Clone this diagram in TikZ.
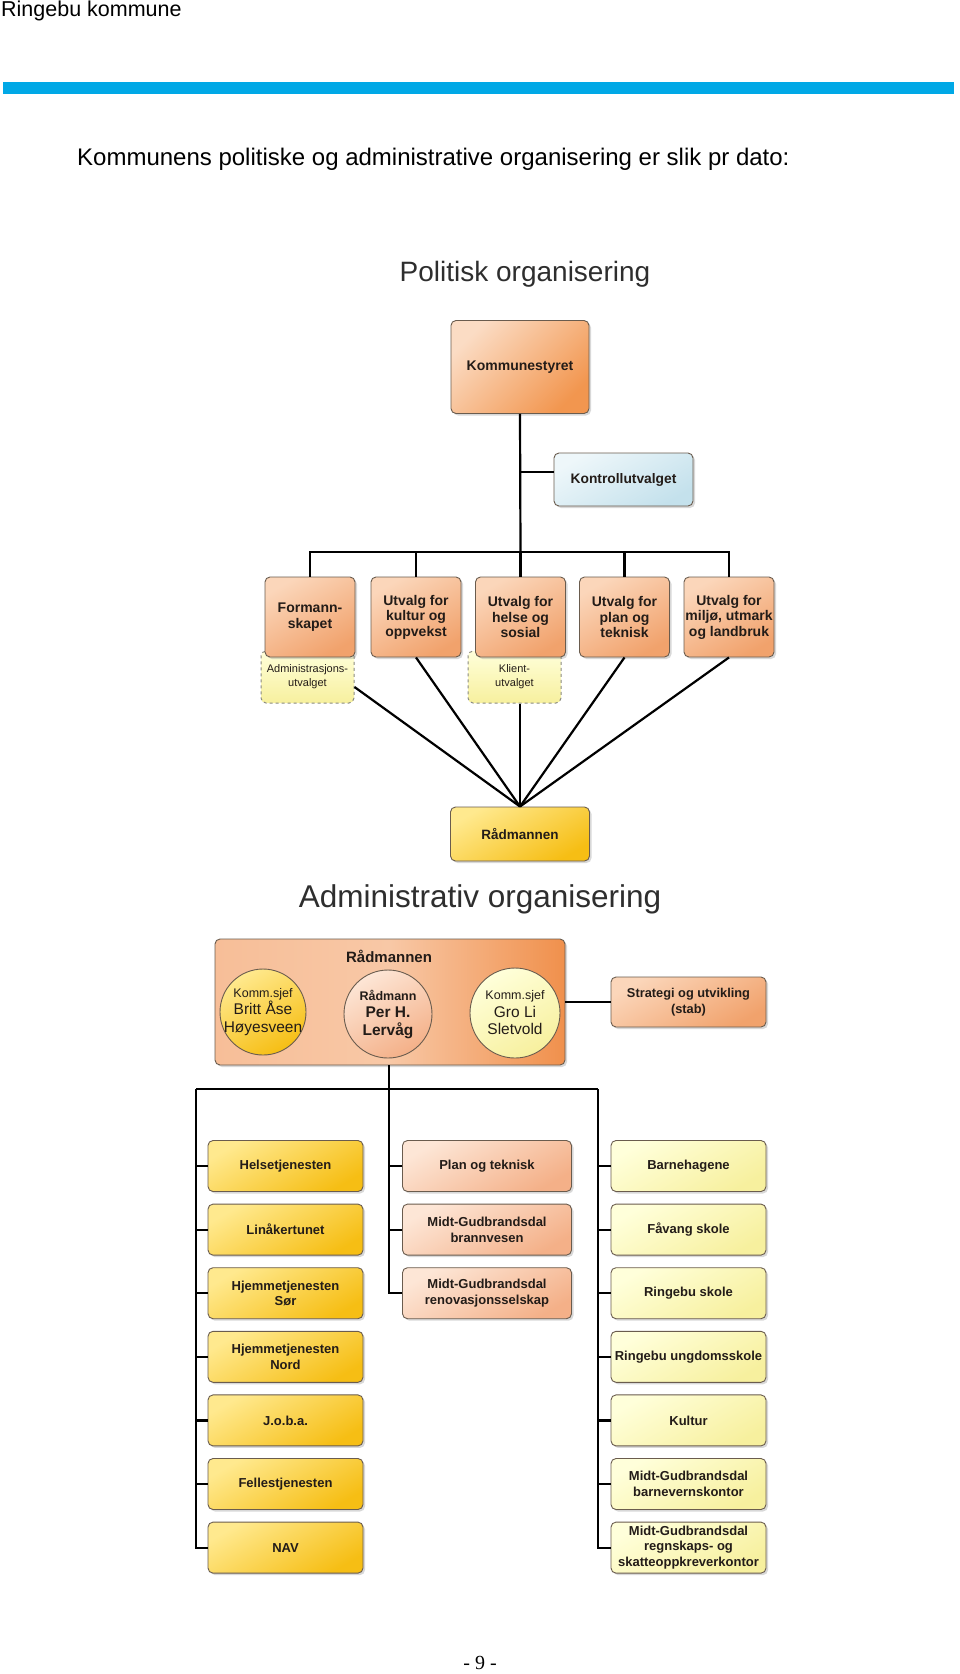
\documentclass[tikz,border=0pt]{standalone}
\usepackage{fontspec}
\setmainfont{Liberation Sans}
\newfontfamily\serifpage{Liberation Serif}
\usetikzlibrary{shadows,calc}
\definecolor{orL}{HTML}{FBDCC4}
\definecolor{orD}{HTML}{F2964F}
\definecolor{peL}{HTML}{FBD6BA}
\definecolor{peD}{HTML}{F1A26C}
\definecolor{blL}{HTML}{EEF7FA}
\definecolor{blD}{HTML}{C4E1EC}
\definecolor{yeL}{HTML}{FFFFDA}
\definecolor{yeD}{HTML}{F7F09E}
\definecolor{goL}{HTML}{FFE98E}
\definecolor{goD}{HTML}{F6BE14}
\definecolor{mpL}{HTML}{FDE6D6}
\definecolor{mpD}{HTML}{F4B088}
\definecolor{bbL}{HTML}{F7BE98}
\definecolor{bbM}{HTML}{F8C8A6}
\definecolor{bbD}{HTML}{F0904C}
\definecolor{boxline}{HTML}{6A5C4E}
\definecolor{dashline}{HTML}{8A8A80}
\definecolor{txt}{HTML}{231C18}
\definecolor{barblue}{HTML}{00A8E6}
\definecolor{ttl}{HTML}{2E2E2E}
\begin{document}
\begin{tikzpicture}[x=1pt,y=-1pt,
  conn/.style={line width=2.2pt, draw=black},
  bx/.style={rectangle, rounded corners=5pt, draw=boxline, line width=0.9pt,
    inner sep=0pt, align=center, text=txt,
    font=\fontsize{13}{15.5}\selectfont\bfseries,
    drop shadow={opacity=0.3, shadow xshift=2pt, shadow yshift=-2pt}},
  orbox/.style={bx, top color=orL, bottom color=orD, shading angle=45},
  pebox/.style={bx, top color=peL, bottom color=peD, shading angle=30},
  blbox/.style={bx, top color=blL, bottom color=blD, shading angle=30},
  gobox/.style={bx, top color=goL, bottom color=goD, shading angle=30},
  mpbox/.style={bx, top color=mpL, bottom color=mpD, shading angle=30},
  yebox/.style={bx, top color=yeL, bottom color=yeD, shading angle=30},
  dbox/.style={rectangle, rounded corners=5pt, draw=dashline, dashed, line width=1pt,
    top color=yeL, bottom color=yeD, inner sep=0pt, align=center, text=txt,
    font=\fontsize{11}{14}\selectfont},
  circ/.style={circle, draw=boxline, line width=0.9pt, inner sep=0pt},
  ctext/.style={align=center, text=txt, inner sep=0pt, font=\fontsize{15.5}{17.5}\selectfont},
  polcol/.style={pebox, minimum width=90pt, minimum height=80pt},
  lcol/.style={gobox, minimum width=155pt, minimum height=51pt},
  mcol/.style={mpbox, minimum width=169pt, minimum height=51pt},
  rcol/.style={yebox, minimum width=155pt, minimum height=51pt}
]
\useasboundingbox (0,0) rectangle (960,1674);
\fill[white] (0,0) rectangle (960,1674);

% header
\node[anchor=base west, inner sep=0pt, font=\fontsize{21.5}{24}\selectfont] (hdr) at (1,16) {Ringebu kommune};
\fill[barblue] (3,82) rectangle (954,94);
\node[anchor=base west, inner sep=0pt, font=\fontsize{24}{28}\selectfont] (intro) at (77,165) {Kommunens politiske og administrative organisering er slik pr dato:};

% Political
\node[inner sep=0pt, text=ttl, font=\fontsize{28}{32}\selectfont] (ptitle) at (525,274) {Politisk organisering};
\node[orbox, minimum width=138pt, minimum height=93pt, font=\fontsize{14}{16}\selectfont\bfseries] (K) at (520,367) {Kommunestyret};
\node[blbox, minimum width=139pt, minimum height=53pt, font=\fontsize{13.8}{16}\selectfont\bfseries] (KU) at (623.5,479.5) {Kontrollutvalget};

\node[dbox, minimum width=93pt, minimum height=52pt] (AU) at (307.5,677) {Administrasjons-\\utvalget};
\node[dbox, minimum width=93pt, minimum height=52pt] (KL) at (514.5,677) {Klient-\\utvalget};

\node[polcol, font=\fontsize{14}{15.5}\selectfont\bfseries] (F) at (310,617) {Formann-\\skapet};
\node[polcol, font=\fontsize{14}{15.5}\selectfont\bfseries] (UK) at (416,617) {Utvalg for\\kultur og\\oppvekst};
\node[polcol, font=\fontsize{14}{15.5}\selectfont\bfseries] (UH) at (520.5,617) {Utvalg for\\helse og\\sosial};
\node[polcol, font=\fontsize{14}{15.5}\selectfont\bfseries] (UP) at (624.5,617) {Utvalg for\\plan og\\teknisk};
\node[polcol, font=\fontsize{14}{15.5}\selectfont\bfseries] (UM) at (729,617) {Utvalg for\\miljø, utmark\\og landbruk};

\node[gobox, minimum width=139pt, minimum height=54pt, font=\fontsize{13.5}{16}\selectfont\bfseries] (RP) at (520,834) {Rådmannen};

\coordinate (pbus) at (520.5,552);
\draw[conn] (K.south) -- (pbus);
\draw[conn] (KU.174) -- (KU.174 -| K.south);
\draw[conn] (F.north) |- (pbus) -| (UM.north);
\draw[conn] (UK.north) -- (UK.north |- pbus);
\draw[conn] (UH.north) -- (pbus);
\draw[conn] (UP.north) -- (UP.north |- pbus);
\draw[conn] (AU.-12) -- (RP.north);
\draw[conn] (UK.south) -- (RP.north);
\draw[conn] (KL.south -| RP.north) -- (RP.north);
\draw[conn] (UP.south) -- (RP.north);
\draw[conn] (UM.south) -- (RP.north);

% Administrative
\node[inner sep=0pt, text=ttl, font=\fontsize{31.5}{36}\selectfont] (atitle) at (480,899) {Administrativ organisering};
\node[bx, left color=bbL, right color=bbD, middle color=bbM, minimum width=350pt, minimum height=126pt] (RB) at (390,1002) {};
\node[inner sep=0pt, text=txt, font=\fontsize{15}{17}\selectfont\bfseries] (RBt) at (389,956) {Rådmannen};
\node[circ, minimum size=86pt, top color=goL, bottom color=goD, shading angle=30] (C1) at (263,1012) {};
\node[circ, minimum size=88pt, top color=mpL, bottom color=mpD, shading angle=30] (C2) at (388,1014) {};
\node[circ, minimum size=90pt, top color=yeL, bottom color=yeD, shading angle=30] (C3) at (515,1013) {};
\node[ctext] (C1t) at (C1) {{\fontsize{12.5}{17.5}\selectfont Komm.sjef}\\Britt Åse\\Høyesveen};
\node[ctext, font=\fontsize{15.5}{17.5}\selectfont\bfseries] (C2t) at (C2) {{\fontsize{12.5}{17.5}\selectfont Rådmann}\\Per H.\\Lervåg};
\node[ctext] (C3t) at (C3) {{\fontsize{12.5}{17.5}\selectfont Komm.sjef}\\Gro Li\\Sletvold};

\node[pebox, minimum width=155pt, minimum height=50pt, font=\fontsize{12.8}{15.5}\selectfont\bfseries] (ST) at (688.5,1002) {Strategi og utvikling\\(stab)};
\draw[conn] (RB.east) -- (ST.west);

% columns
\node[lcol] (L1) at (285.5,1166) {Helsetjenesten};
\node[lcol] (L2) at (285.5,1229.6) {Linåkertunet};
\node[lcol] (L3) at (285.5,1293.2) {Hjemmetjenesten\\Sør};
\node[lcol] (L4) at (285.5,1356.8) {Hjemmetjenesten\\Nord};
\node[lcol] (L5) at (285.5,1420.4) {J.o.b.a.};
\node[lcol] (L6) at (285.5,1484) {Fellestjenesten};
\node[lcol] (L7) at (285.5,1547.6) {NAV};

\node[mcol] (M1) at (487,1166) {Plan og teknisk};
\node[mcol] (M2) at (487,1229.6) {Midt-Gudbrandsdal\\brannvesen};
\node[mcol] (M3) at (487,1293.2) {Midt-Gudbrandsdal\\renovasjonsselskap};

\node[rcol] (R1) at (688.5,1166) {Barnehagene};
\node[rcol] (R2) at (688.5,1229.6) {Fåvang skole};
\node[rcol] (R3) at (688.5,1293.2) {Ringebu skole};
\node[rcol] (R4) at (688.5,1356.8) {Ringebu ungdomsskole};
\node[rcol] (R5) at (688.5,1420.4) {Kultur};
\node[rcol] (R6) at (688.5,1484) {Midt-Gudbrandsdal\\barnevernskontor};
\node[rcol] (R7) at (688.5,1547.6) {Midt-Gudbrandsdal\\regnskaps- og\\skatteoppkreverkontor};

\coordinate (abus) at (389,1089);
\coordinate (lbus) at (196,1089);
\coordinate (rbus) at (598,1089);
\draw[conn] (RB.south -| abus) -- (abus);
\draw[conn] (lbus) -- (rbus);
\draw[conn] (lbus) |- (L7.west);
\draw[conn] (abus) |- (M3.west);
\draw[conn] (rbus) |- (R7.west);
\foreach \n in {L1,L2,L3,L4,L5,L6}{\draw[conn] (\n.west) -- (\n.west -| lbus);}
\foreach \n in {M1,M2}{\draw[conn] (\n.west) -- (\n.west -| abus);}
\foreach \n in {R1,R2,R3,R4,R5,R6}{\draw[conn] (\n.west) -- (\n.west -| rbus);}

% footer
\node[anchor=base, inner sep=0pt, font=\serifpage\fontsize{20}{22}\selectfont] (pg) at (480,1669) {- 9 -};
\end{tikzpicture}
\end{document}
